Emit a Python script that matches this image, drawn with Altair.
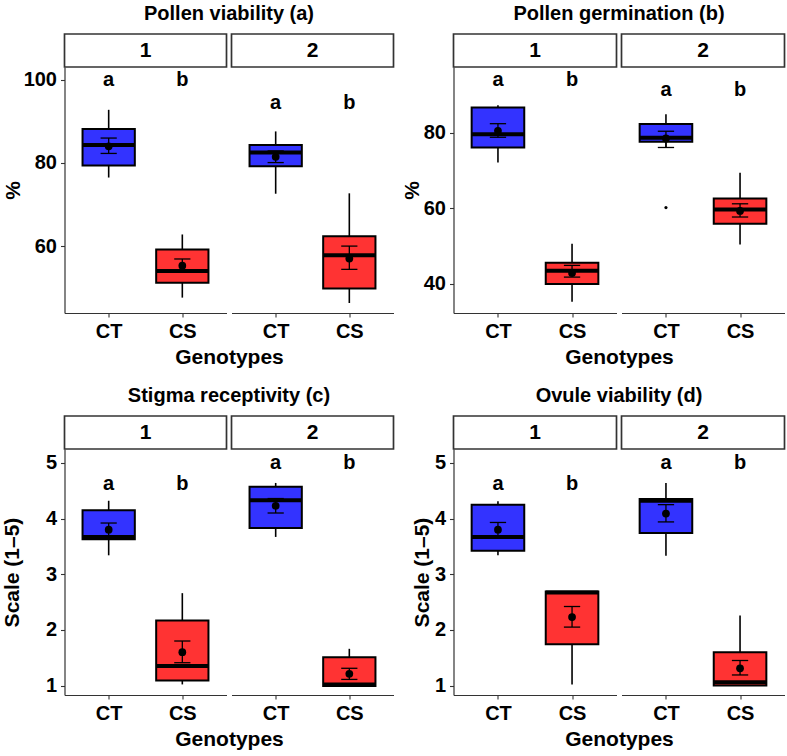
import altair as alt
import pandas as pd

# ---------------- data ----------------
panel_titles = ["Pollen viability (a)", "Pollen germination (b)",
                "Stigma receptivity (c)", "Ovule viability (d)"]
y_titles = ["%", "%", "Scale (1\u20135)", "Scale (1\u20135)"]
facets = ["1", "2"]
genotypes = ["CT", "CS"]
genotype_pos = [1, 2]
letters = ["a", "b"]

# order inside each panel: facet1-CT, facet1-CS, facet2-CT, facet2-CS
whisker_low = [[76.5, 47.6, 72.6, 46.3], [72.1, 35.3, 76.1, 50.4],
               [3.34, 1.02, 3.67, 1.00], [3.34, 1.02, 3.33, 1.00]]
q1 = [[79.4, 51.2, 79.2, 49.8], [76.1, 40.0, 77.6, 55.9],
      [3.63, 1.09, 3.83, 0.99], [3.42, 1.74, 3.74, 1.00]]
median = [[84.3, 54.0, 82.5, 57.8], [79.6, 43.5, 78.7, 59.7],
          [3.67, 1.35, 4.33, 1.02], [3.67, 2.67, 4.32, 1.06]]
q3 = [[88.2, 59.2, 84.3, 62.4], [86.7, 45.6, 82.3, 62.6],
      [4.15, 2.17, 4.57, 1.51], [4.25, 2.69, 4.35, 1.60]]
whisker_high = [[92.8, 62.8, 87.6, 72.7], [87.3, 50.6, 84.9, 69.4],
                [4.32, 2.66, 4.64, 1.66], [4.31, 2.69, 4.64, 2.26]]
mean = [[84.0, 55.3, 81.5, 57.0], [80.5, 42.9, 78.5, 59.3],
        [3.80, 1.60, 4.23, 1.21], [3.80, 2.23, 4.09, 1.31]]
se_low = [[82.3, 53.7, 80.1, 54.4], [78.8, 41.8, 76.1, 57.7],
          [3.67, 1.41, 4.10, 1.11], [3.67, 2.05, 3.94, 1.19]]
se_high = [[86.0, 56.9, 82.9, 60.0], [82.4, 44.9, 80.4, 61.2],
           [3.92, 1.80, 4.36, 1.31], [3.93, 2.42, 4.25, 1.45]]
letter_y = [[100, 100, 94.5, 94.5], [94, 94, 91.2, 91.2],
            [4.63, 4.63, 5.0, 5.0], [4.63, 4.63, 5.0, 5.0]]
# outliers: (panel index, facet, genotype, value)
outlier_panel = [1]
outlier_facet = ["2"]
outlier_genotype = ["CT"]
outlier_value = [60.2]

y_domains = [[43.9, 103.1], [32.3, 97.4], [0.83, 5.25], [0.83, 5.25]]
y_ticks = [[60, 80, 100], [40, 60, 80], [1, 2, 3, 4, 5], [1, 2, 3, 4, 5]]

# ---------------- layout / style ----------------
FONT = "Liberation Sans, Arial, Helvetica, sans-serif"
BLUE = "#3333FF"
RED = "#FF3333"
AXC = "#333333"
PLOT_H = 246
STRIP_H = 33
ROW_GAP = 103
COL_GAP = 5
col_w = [162, 162, 50, 163, 163]   # facet1, facet2, spacer, facet1, facet2
panel_cols = [(0, 1), (3, 4), (0, 1), (3, 4)]
y_extent = [39, 30, 18, 19]
y_title_pad = [2.5, 1.5, 24, 2]
BOX_HALF = 0.355
CAP_HALF = 0.11
ORIGIN_X = 64.5
ORIGIN_Y = 34
PAGE_W = 787
PAGE_H = 756

xscale = alt.Scale(domain=[0.4, 2.6], nice=False, zero=False)
label_expr = "datum.value == 1 ? 'CT' : 'CS'"


def facet_frame(p, fi):
    rows = []
    for gi, g in enumerate(genotypes):
        k = fi * 2 + gi
        pos = genotype_pos[gi]
        rows.append(dict(
            genotype=g, pos=pos,
            bx1=pos - BOX_HALF, bx2=pos + BOX_HALF,
            cx1=pos - CAP_HALF, cx2=pos + CAP_HALF,
            wlo=whisker_low[p][k], q1=q1[p][k], med=median[p][k],
            q3=q3[p][k], whi=whisker_high[p][k], mean=mean[p][k],
            selo=se_low[p][k], sehi=se_high[p][k],
            ly=letter_y[p][k], letter=letters[gi]))
    return pd.DataFrame(rows)


def facet_plot(p, fi):
    df = facet_frame(p, fi)
    W = col_w[panel_cols[p][fi]]
    yscale = alt.Scale(domain=y_domains[p], nice=False, zero=False)
    if fi == 0:
        xaxis = alt.Axis(values=[1, 2], labelExpr=label_expr, title="Genotypes",
                         titleX=W + COL_GAP / 2)
        yaxis = alt.Axis(values=y_ticks[p], title=y_titles[p],
                         minExtent=y_extent[p], maxExtent=y_extent[p],
                         titlePadding=y_title_pad[p])
    else:
        xaxis = alt.Axis(values=[1, 2], labelExpr=label_expr, title=None)
        yaxis = None

    def X(f):
        return alt.X(f, type="quantitative", scale=xscale, axis=xaxis)

    def Y(f):
        return alt.Y(f, type="quantitative", scale=yscale, axis=yaxis)

    base = alt.Chart(df)
    color = alt.Color("genotype:N", scale=alt.Scale(domain=genotypes, range=[BLUE, RED]),
                      legend=None)
    whisker = base.mark_rule(color="black", strokeWidth=1.6).encode(
        x=X("pos"), y=Y("wlo"), y2="whi")
    box = base.mark_bar(stroke="black", strokeWidth=2, opacity=1).encode(
        x=X("bx1"), x2="bx2", y=Y("q1"), y2="q3", color=color)
    med = base.mark_rule(color="black", strokeWidth=4).encode(
        x=X("bx1"), x2="bx2", y=Y("med"))
    se = base.mark_rule(color="black", strokeWidth=1.3).encode(
        x=X("pos"), y=Y("selo"), y2="sehi")
    cap_lo = base.mark_rule(color="black", strokeWidth=1.3).encode(
        x=X("cx1"), x2="cx2", y=Y("selo"))
    cap_hi = base.mark_rule(color="black", strokeWidth=1.3).encode(
        x=X("cx1"), x2="cx2", y=Y("sehi"))
    mpt = base.mark_circle(color="black", size=60, opacity=1).encode(
        x=X("pos"), y=Y("mean"))
    txt = base.mark_text(font=FONT, fontSize=20, fontWeight="bold", color="black",
                         baseline="middle").encode(x=X("pos"), y=Y("ly"), text="letter:N")
    layers = [whisker, box, med, se, cap_lo, cap_hi, mpt, txt]

    out = pd.DataFrame(dict(panel=outlier_panel, facet=outlier_facet,
                            genotype=outlier_genotype, value=outlier_value))
    out = out[(out.panel == p) & (out.facet == facets[fi])].copy()
    if len(out):
        out["pos"] = [genotype_pos[genotypes.index(g)] for g in out.genotype]
        layers.append(alt.Chart(out).mark_circle(color="black", size=10, opacity=1)
                      .encode(x=X("pos"), y=Y("value")))
    return alt.layer(*layers).properties(width=W, height=PLOT_H)


def strip(p, fi):
    W = col_w[panel_cols[p][fi]]
    df = pd.DataFrame({"label": [facets[fi]]})
    props = dict(width=W, height=STRIP_H,
                 view=alt.ViewBackground(stroke=AXC, strokeWidth=1.7, fill="white"))
    if fi == 0:
        props["title"] = alt.Title(panel_titles[p], anchor="middle", offset=0, dy=6,
                                   baseline="alphabetic", dx=(W + COL_GAP) / 2)
    return alt.Chart(df).mark_text(font=FONT, fontSize=21, fontWeight="bold",
                                   color="black", baseline="middle").encode(
        text="label:N").properties(**props)


def spacer(w, h):
    return alt.Chart(pd.DataFrame({"v": [0]})).mark_point(opacity=0).encode(
        x=alt.value(0), y=alt.value(0)).properties(width=w, height=h)


cells = []
for r in range(2):
    pa, pb = 2 * r, 2 * r + 1
    cells += [strip(pa, 0), strip(pa, 1), spacer(col_w[2], STRIP_H),
              strip(pb, 0), strip(pb, 1)]
    cells += [facet_plot(pa, 0), facet_plot(pa, 1), spacer(col_w[2], PLOT_H),
              facet_plot(pb, 0), facet_plot(pb, 1)]
    if r == 0:
        cells += [spacer(w, ROW_GAP) for w in col_w]

chart = alt.concat(*cells, columns=5, spacing={"row": 0, "column": COL_GAP},
                   bounds="flush").properties(
    autosize=alt.AutoSizeParams(type="none"),
    padding={"left": ORIGIN_X, "top": ORIGIN_Y,
             "right": PAGE_W - ORIGIN_X, "bottom": PAGE_H - ORIGIN_Y},
    background="white",
).configure_view(stroke=None).configure_axis(
    grid=False, domainColor=AXC, domainWidth=1.2, tickColor=AXC, tickSize=4,
    tickWidth=1.1, labelFont=FONT, labelFontSize=20, labelFontWeight="bold",
    labelColor="black", titleFont=FONT, titleFontSize=21, titleFontWeight="bold",
    titleColor="black", labelPadding=4,
).configure_axisX(labelPadding=4, titlePadding=5).configure_title(
    font=FONT, fontSize=20, fontWeight="bold", color="black")

chart.save("out.html", embed_options={"renderer": "svg", "actions": False})
